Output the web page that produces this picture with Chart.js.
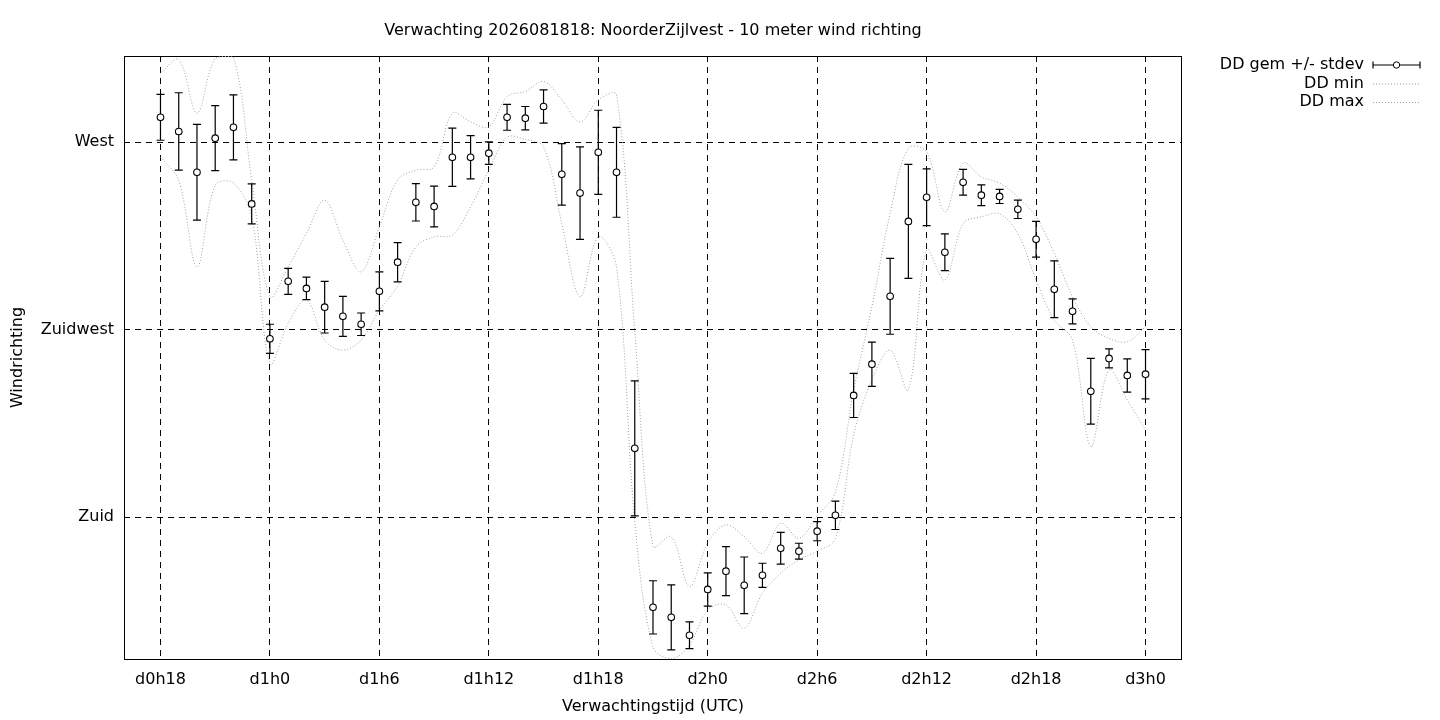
<!DOCTYPE html>
<html>
<head>
<meta charset="utf-8">
<title>Verwachting 2026081818: NoorderZijlvest - 10 meter wind richting</title>
<script src="https://cdn.jsdelivr.net/npm/chart.js@4.4.1/dist/chart.umd.min.js"></script>
<style>
  html, body { margin: 0; padding: 0; background: #fff; }
  #wrap { width: 1440px; height: 720px; position: relative; }
</style>
</head>
<body>
<div id="wrap"><canvas id="chart"></canvas></div>
<script>
const titleText = 'Verwachting 2026081818: NoorderZijlvest - 10 meter wind richting';

// forecast hour since d0h0, one point per hour
const hours = [18, 19, 20, 21, 22, 23, 24, 25, 26, 27, 28, 29, 30, 31, 32, 33, 34, 35, 36,
  37, 38, 39, 40, 41, 42, 43, 44, 45, 46, 47, 48, 49, 50, 51, 52, 53, 54, 55, 56, 57, 58,
  59, 60, 61, 62, 63, 64, 65, 66, 67, 68, 69, 70, 71, 72];

// wind direction in degrees
const ddMean = [276.0, 272.6, 262.8, 271.0, 273.6, 255.2, 222.8, 236.6, 234.9, 230.4, 228.2,
  226.3, 234.2, 241.2, 255.6, 254.6, 266.4, 266.4, 267.4, 276.0, 275.8, 278.6, 262.3, 257.8,
  267.6, 262.8, 196.5, 158.3, 155.9, 151.6, 162.6, 167.0, 163.6, 166.0, 172.5, 171.8, 176.6,
  180.4, 209.2, 216.7, 233.0, 251.0, 256.8, 243.6, 260.4, 257.3, 257.0, 253.9, 246.7, 234.7,
  229.4, 210.2, 218.1, 214.0, 214.3];
const ddStdev = [5.5, 9.3, 11.5, 7.8, 7.8, 4.8, 3.5, 3.1, 2.7, 6.2, 4.8, 2.7, 4.7, 4.7, 4.5,
  4.9, 7.0, 5.2, 2.7, 3.1, 2.8, 4.0, 7.4, 11.1, 10.1, 10.8, 16.2, 6.4, 7.8, 3.2, 4.0, 5.9,
  6.8, 2.9, 3.8, 1.9, 2.3, 3.4, 5.3, 5.3, 9.1, 13.7, 6.8, 4.4, 3.1, 2.5, 1.7, 2.2, 4.3, 6.8,
  3.0, 7.9, 2.3, 4.0, 5.9];
const ddMin = [266.5, 260.9, 240.1, 259.7, 260.2, 252.1, 216.9, 226.5, 232.1, 222.5, 220.1,
  222.5, 229.7, 235.5, 244.9, 247.3, 247.7, 254.5, 263.3, 271.2, 270.7, 268.9, 250.5, 232.9,
  247.3, 240.1, 179.0, 148.8, 146.0, 149.2, 157.7, 158.9, 153.3, 161.7, 166.5, 169.7, 171.8,
  174.8, 199.7, 212.9, 220.1, 210.5, 244.1, 236.9, 250.5, 252.1, 252.8, 248.1, 236.9, 227.3,
  222.5, 196.9, 215.3, 208.1, 200.9];
const ddMax = [286.6, 289.9, 277.0, 290.2, 290.4, 261.0, 232.9, 240.1, 248.1, 256.1, 246.5,
  238.9, 249.7, 261.0, 263.3, 264.1, 277.0, 274.9, 273.7, 281.0, 282.2, 284.6, 280.2, 274.9,
  280.2, 281.4, 224.8, 172.9, 175.3, 163.3, 173.8, 178.1, 175.3, 171.3, 178.5, 174.9, 180.3,
  186.0, 210.5, 230.5, 252.9, 268.6, 267.7, 253.3, 265.0, 261.7, 260.2, 256.9, 252.1, 243.3,
  232.9, 225.7, 222.9, 222.1, 225.7];

const xTickValues = [18, 24, 30, 36, 42, 48, 54, 60, 66, 72];
const xTickLabels = ['d0h18', 'd1h0', 'd1h6', 'd1h12', 'd1h18', 'd2h0', 'd2h6', 'd2h12', 'd2h18', 'd3h0'];
const yTickValues = [180, 225, 270];
const yTickLabels = ['Zuid', 'Zuidwest', 'West'];

const seriesNames = ['DD gem +/- stdev', 'DD min', 'DD max'];

const FONT = '"DejaVu Sans", "Liberation Sans", sans-serif';
const DOT_COLOR = '#a0a0a0';
const DOTS = [1, 2];

Chart.defaults.font.family = FONT;
Chart.defaults.font.size = 16;
Chart.defaults.color = '#000';

// error bars under the mean circles
const errorBars = {
  id: 'errorBars',
  beforeDatasetDraw(chart, args) {
    if (args.index !== 0) return;
    const { ctx, chartArea, scales: { x, y } } = chart;
    ctx.save();
    ctx.beginPath();
    ctx.rect(chartArea.left, chartArea.top, chartArea.width, chartArea.height);
    ctx.clip();
    ctx.strokeStyle = '#000';
    ctx.lineWidth = 1.2;
    hours.forEach((h, i) => {
      const px = x.getPixelForValue(h);
      const top = y.getPixelForValue(ddMean[i] + ddStdev[i]);
      const bot = y.getPixelForValue(ddMean[i] - ddStdev[i]);
      ctx.beginPath();
      ctx.moveTo(px, top); ctx.lineTo(px, bot);
      ctx.moveTo(px - 4, top); ctx.lineTo(px + 4, top);
      ctx.moveTo(px - 4, bot); ctx.lineTo(px + 4, bot);
      ctx.stroke();
    });
    ctx.restore();
  }
};

// plot border
const frame = {
  id: 'frame',
  beforeDatasetsDraw(chart) {
    const { ctx, chartArea: a } = chart;
    ctx.save();
    ctx.strokeStyle = '#000';
    ctx.lineWidth = 1;
    ctx.strokeRect(Math.round(a.left) + 0.5, Math.round(a.top) + 0.5,
      Math.round(a.width) - 1, Math.round(a.height));
    ctx.restore();
  }
};

// title and gnuplot style key at the top right
const titleAndKey = {
  id: 'titleAndKey',
  afterDraw(chart) {
    const { ctx, chartArea: a } = chart;
    ctx.save();
    ctx.fillStyle = '#000';
    ctx.font = '16px ' + FONT;
    ctx.textBaseline = 'alphabetic';
    ctx.textAlign = 'center';
    ctx.fillText(titleText, (a.left + a.right) / 2, 35);

    const textRight = 1364, x0 = 1373, x1 = 1420;
    const rows = [69, 87.5, 106];
    ctx.textAlign = 'right';
    seriesNames.forEach((name, i) => ctx.fillText(name, textRight, rows[i]));

    // errorbar sample
    const ys = 65;
    ctx.strokeStyle = '#000';
    ctx.lineWidth = 1.2;
    ctx.beginPath();
    ctx.moveTo(x0, ys); ctx.lineTo(x1, ys);
    ctx.moveTo(x0, ys - 3.5); ctx.lineTo(x0, ys + 3.5);
    ctx.moveTo(x1, ys - 3.5); ctx.lineTo(x1, ys + 3.5);
    ctx.stroke();
    ctx.beginPath();
    ctx.arc((x0 + x1) / 2, ys, 3.2, 0, Math.PI * 2);
    ctx.fillStyle = '#fff';
    ctx.fill();
    ctx.lineWidth = 1;
    ctx.stroke();

    // dotted samples
    ctx.strokeStyle = DOT_COLOR;
    ctx.setLineDash(DOTS);
    [84, 102.5].forEach(yy => {
      ctx.beginPath();
      ctx.moveTo(x0, yy); ctx.lineTo(x1, yy);
      ctx.stroke();
    });
    ctx.restore();
  }
};

const toPoints = vals => hours.map((h, i) => ({ x: h, y: vals[i] }));

new Chart(document.getElementById('chart'), {
  type: 'scatter',
  data: {
    datasets: [
      {
        label: seriesNames[0],
        data: toPoints(ddMean),
        pointRadius: 3.3,
        pointHoverRadius: 3.3,
        pointBackgroundColor: '#fff',
        pointBorderColor: '#000',
        pointBorderWidth: 1.1,
        showLine: false
      },
      {
        type: 'line',
        label: seriesNames[1],
        data: toPoints(ddMin),
        borderColor: DOT_COLOR,
        borderWidth: 1,
        borderDash: DOTS,
        pointRadius: 0,
        tension: 0.35,
        fill: false
      },
      {
        type: 'line',
        label: seriesNames[2],
        data: toPoints(ddMax),
        borderColor: DOT_COLOR,
        borderWidth: 1,
        borderDash: DOTS,
        pointRadius: 0,
        tension: 0.35,
        fill: false
      }
    ]
  },
  options: {
    responsive: true,
    maintainAspectRatio: false,
    animation: false,
    devicePixelRatio: 1,
    layout: { padding: { top: 56, right: 258, left: 0, bottom: 0 } },
    plugins: {
      legend: { display: false },
      title: { display: false },
      tooltip: { enabled: false }
    },
    scales: {
      x: {
        type: 'linear',
        min: 16,
        max: 74,
        afterBuildTicks: scale => { scale.ticks = xTickValues.map(v => ({ value: v })); },
        afterFit: scale => { scale.height = 61; },
        ticks: {
          autoSkip: false,
          maxRotation: 0,
          padding: 11,
          color: '#000',
          callback: v => xTickLabels[xTickValues.indexOf(v)]
        },
        grid: { color: '#000', lineWidth: 1, drawTicks: false },
        border: { display: false, dash: [6, 5] },
        title: {
          display: true,
          text: 'Verwachtingstijd (UTC)',
          color: '#000',
          padding: { top: 4, bottom: 4 }
        }
      },
      y: {
        type: 'linear',
        min: 145.9,
        max: 290.73,
        afterBuildTicks: scale => { scale.ticks = yTickValues.map(v => ({ value: v })); },
        afterFit: scale => { scale.width = 124; },
        ticks: {
          padding: 10,
          color: '#000',
          callback: v => yTickLabels[yTickValues.indexOf(v)]
        },
        grid: { color: '#000', lineWidth: 1, drawTicks: false },
        border: { display: false, dash: [6, 5] },
        title: {
          display: true,
          text: 'Windrichting',
          color: '#000',
          padding: { top: 8, bottom: 4 }
        }
      }
    }
  },
  plugins: [errorBars, frame, titleAndKey]
});
</script>
</body>
</html>
